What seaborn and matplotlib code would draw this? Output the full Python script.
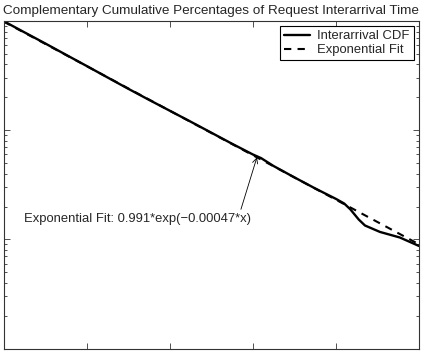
import numpy as np
import pandas as pd
import matplotlib
matplotlib.use("Agg")
import matplotlib.pyplot as plt
import seaborn as sns

# interarrival time (x) and complementary cumulative fraction
cdf_x = [0, 500, 1000, 1500, 2000, 2500, 3000, 3500, 4000, 4500, 5000, 5500,
         6000, 6200, 6500, 7000, 7500, 8000, 8200, 8350, 8550, 8700, 9060,
         9540, 10000]
cdf_y = [1.0, 0.79, 0.625, 0.492, 0.388, 0.305, 0.240, 0.190, 0.151, 0.120,
         0.0950, 0.0752, 0.0600, 0.0555, 0.0470, 0.0370, 0.0293, 0.0235,
         0.0213, 0.0188, 0.0152, 0.0134, 0.0117, 0.0104, 0.0087]

# exponential fit 0.991*exp(-0.00047*x), values read at a few x
fit_x = [0, 2000, 4000, 6000, 8000, 10000]
fit_y = [0.991, 0.387, 0.151, 0.0591, 0.0231, 0.00901]

sns.set_style("ticks")
plt.rcParams['font.family'] = ['Liberation Sans', 'DejaVu Sans']
plt.rcParams['xtick.direction'] = 'in'
plt.rcParams['ytick.direction'] = 'in'

fig = plt.figure(figsize=(4.27, 3.54), dpi=100)
ax = fig.add_axes([0.0082, 0.0155, 0.973, 0.925])

df_cdf = pd.DataFrame({'x': cdf_x, 'y': cdf_y})
df_fit = pd.DataFrame({'x': fit_x, 'y': fit_y})
sns.lineplot(x='x', y='y', data=df_cdf, ax=ax, color='black', lw=1.7,
             label='Interarrival CDF')
sns.lineplot(x='x', y='y', data=df_fit, ax=ax, color='black', lw=1.5,
             linestyle=(0, (3.5, 3)), label='Exponential Fit')

ax.set_yscale('log')
ax.set_xlim(0, 10000)
ax.set_ylim(1e-3, 1)
ax.set_xticks([0, 2000, 4000, 6000, 8000, 10000])
ax.tick_params(which='both', top=True, right=True, labelbottom=False,
               labelleft=False, width=0.6, colors='#333333')
ax.tick_params(which='major', length=4)
ax.tick_params(which='minor', length=2)
for s in ax.spines.values():
    s.set_linewidth(0.8)
    s.set_color('#333333')
ax.set_xlabel('')
ax.set_ylabel('')

ax.set_title('Complementary Cumulative Percentages of Request Interarrival Time',
             fontsize=9.7, pad=5)

ax.annotate('Exponential Fit: 0.991*exp(\u22120.00047*x)', xy=(6100, 0.0565),
            xytext=(500, 0.0155), fontsize=9.4, va='center', ha='left',
            arrowprops=dict(arrowstyle='->', lw=0.6, color='black',
                            shrinkA=0, shrinkB=0, relpos=(0.95, 1.0)))

leg = ax.legend(loc='upper right', fontsize=9.4, fancybox=False, framealpha=1,
                edgecolor='black', handlelength=2.0, handletextpad=0.6,
                borderaxespad=0.4, borderpad=0.3, labelspacing=0.15)
leg.get_frame().set_linewidth(0.8)

fig.savefig('out.png', dpi=100)
